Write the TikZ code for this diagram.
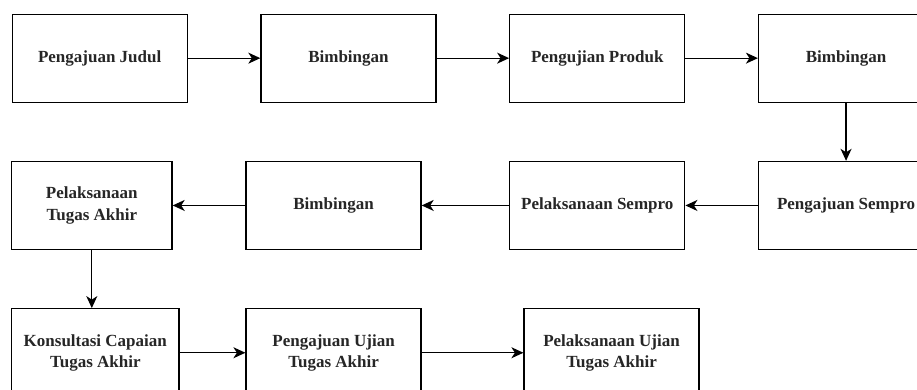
\documentclass[tikz,border=0pt]{standalone}
\usepackage{fontspec}
\setmainfont{Liberation Serif}
\usepackage{tikz}
\usetikzlibrary{arrows.meta, positioning, calc}

\begin{document}
\begin{tikzpicture}[
  x=1pt, y=1pt,
  every node/.style={font=\fontsize{17}{21.5}\selectfont\bfseries, text=black!85},
  stepbox/.style={
    rectangle, draw=black, line width=1.3pt,
    minimum width=175pt, minimum height=88pt,
    text centered, align=center, inner sep=2pt,
  },
  arrow/.style={-{Stealth[length=12pt, width=11pt, inset=3.5pt]}, line width=1.3pt},
]
\useasboundingbox (0,0) rectangle (917,-389);

% row 1
\node[stepbox, anchor=north west] (judul) at (11.5,-13.5) {Pengajuan Judul};
\node[stepbox, right=72.5pt of judul]   (bimb1)   {Bimbingan};
\node[stepbox, right=72.5pt of bimb1]   (uji)     {Pengujian Produk};
\node[stepbox, right=72.5pt of uji]     (bimb2)   {Bimbingan};

% row 2
\node[stepbox, below=58pt of bimb2]     (ajusem)  {Pengajuan Sempro};
\node[stepbox, left=72.5pt of ajusem]   (laksem)  {Pelaksanaan Sempro};
\node[stepbox, left=87.4pt of laksem]   (bimb3)   {Bimbingan};
\node[stepbox, minimum width=160.5pt, left=72.7pt of bimb3] (laksta) {Pelaksanaan\\Tugas Akhir};

% row 3
\node[stepbox, minimum width=167.5pt, anchor=north west] (konsul) at ($(laksta.south west)+(0,-58)$) {Konsultasi Capaian\\Tugas Akhir};
\node[stepbox, right=65.7pt of konsul]  (ajuuji)  {Pengajuan Ujian\\Tugas Akhir};
\node[stepbox, right=101.7pt of ajuuji] (lakuji)  {Pelaksanaan Ujian\\Tugas Akhir};

% forward flow
\draw[arrow] (judul) -- (bimb1);
\draw[arrow] (bimb1) -- (uji);
\draw[arrow] (uji)   -- (bimb2);
\draw[arrow] (bimb2) -- (ajusem);

% back flow
\draw[arrow] (ajusem) -- (laksem);
\draw[arrow] (laksem) -- (bimb3);
\draw[arrow] (bimb3)  -- (laksta);

% down to last row
\draw[arrow] (laksta.south) -- (laksta.south |- konsul.north);
\draw[arrow] (konsul) -- (ajuuji);
\draw[arrow] (ajuuji) -- (lakuji);

\end{tikzpicture}
\end{document}
